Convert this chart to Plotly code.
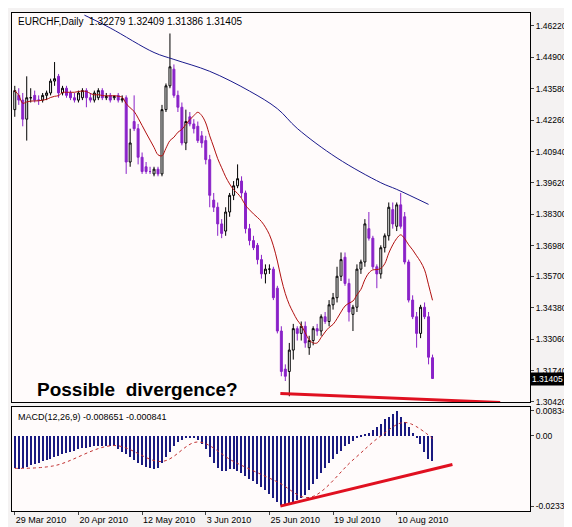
import plotly.graph_objects as go
import pandas as pd

opens = [1.427,1.433,1.431,1.423,1.432,1.433,1.431,1.431,1.433,1.434,1.439,1.441,1.434,1.436,1.434,1.432,1.431,1.432,1.435,1.432,
         1.431,1.432,1.435,1.432,1.433,1.432,1.433,1.431,1.432,1.405,1.422,1.419,1.407,1.403,1.401,1.400,1.402,1.400,1.427,1.437,
         1.444,1.433,1.428,1.413,1.424,1.421,1.420,1.416,1.414,1.406,1.389,1.386,1.379,1.376,1.384,1.391,1.395,1.397,1.392,1.377,
         1.372,1.370,1.364,1.358,1.360,1.360,1.352,1.334,1.318,1.317,1.326,1.335,1.333,1.336,1.327,1.330,1.335,1.334,1.340,1.338,
         1.345,1.348,1.357,1.365,1.354,1.341,1.344,1.360,1.363,1.377,1.373,1.361,1.358,1.369,1.374,1.385,1.378,1.387,1.382,1.363,
         1.347,1.340,1.333,1.344,1.340,1.32279]
highs = [1.437,1.436,1.434,1.441,1.436,1.435,1.433,1.434,1.435,1.440,1.447,1.442,1.437,1.437,1.435,1.434,1.435,1.436,1.436,1.434,
         1.435,1.436,1.436,1.434,1.434,1.433,1.434,1.433,1.433,1.419,1.433,1.421,1.409,1.405,1.403,1.403,1.403,1.429,1.438,1.459,
         1.446,1.435,1.430,1.427,1.426,1.423,1.422,1.418,1.416,1.408,1.392,1.388,1.381,1.386,1.392,1.397,1.404,1.399,1.393,1.379,
         1.374,1.371,1.366,1.362,1.362,1.361,1.353,1.336,1.320,1.329,1.337,1.336,1.338,1.338,1.332,1.336,1.337,1.341,1.342,1.347,
         1.350,1.361,1.367,1.367,1.356,1.345,1.362,1.364,1.381,1.384,1.374,1.362,1.370,1.375,1.388,1.388,1.388,1.392,1.384,1.364,
         1.349,1.342,1.345,1.346,1.342,1.32409]
lows = [1.424,1.429,1.420,1.414,1.430,1.430,1.429,1.430,1.431,1.433,1.437,1.432,1.433,1.432,1.431,1.430,1.430,1.431,1.428,1.430,
        1.430,1.431,1.431,1.431,1.430,1.431,1.430,1.430,1.400,1.403,1.418,1.404,1.400,1.400,1.400,1.399,1.399,1.399,1.426,1.436,
        1.432,1.426,1.412,1.410,1.420,1.417,1.413,1.411,1.404,1.386,1.384,1.374,1.373,1.374,1.382,1.389,1.394,1.390,1.375,1.370,
        1.368,1.362,1.356,1.354,1.358,1.347,1.333,1.315,1.313,1.3066,1.322,1.330,1.330,1.327,1.324,1.328,1.332,1.332,1.337,1.336,
        1.343,1.346,1.355,1.353,1.338,1.334,1.342,1.358,1.361,1.372,1.360,1.352,1.356,1.367,1.372,1.377,1.376,1.377,1.362,1.346,
        1.339,1.327,1.331,1.339,1.320,1.31386]
closes = [1.435,1.431,1.423,1.432,1.432,1.431,1.431,1.433,1.434,1.439,1.440,1.434,1.436,1.433,1.432,1.431,1.434,1.435,1.432,1.431,
          1.434,1.435,1.432,1.4325,1.431,1.4325,1.431,1.4315,1.405,1.413,1.419,1.407,1.401,1.401,1.401,1.402,1.400,1.427,1.437,1.445,
          1.433,1.428,1.413,1.422,1.421,1.419,1.414,1.413,1.406,1.391,1.386,1.379,1.375,1.384,1.391,1.395,1.398,1.392,1.377,1.372,
          1.369,1.364,1.358,1.360,1.360,1.348,1.334,1.317,1.315,1.326,1.335,1.333,1.336,1.329,1.330,1.335,1.334,1.340,1.338,1.345,
          1.348,1.357,1.364,1.354,1.342,1.344,1.360,1.363,1.379,1.373,1.361,1.358,1.369,1.374,1.386,1.379,1.387,1.378,1.363,1.347,
          1.340,1.333,1.344,1.340,1.323,1.31405]

ma100_idx = [17.5,24,35,40,49,59,66,71,81,92,96,104]
ma100_val = [1.4667,1.4613,1.4510,1.4481,1.4431,1.4348,1.4274,1.4191,1.4067,1.3963,1.3935,1.3872]

macd_hist = [-10.8,-11.2,-10.8,-10.4,-9.9,-9.5,-9,-8.6,-8.1,-7.7,-7.2,
             -6.8,-6.3,-5.9,-5.4,-5,-4.5,-4.3,-4,-3.8,-3.6,-3.6,-3.6,-3.4,-3.4,-3.6,
             -4.5,-5.4,-6.3,-7.2,-8.1,-9,-9.9,-10.4,-10.8,-11.2,-10.8,
             -9,-7.2,-5.4,-3.6,-2.2,-1.4,-0.9,-0.9,-0.9,-1.4,
             -2.7,-4.5,-7.2,-9,-10.8,-11.7,-11.7,-11.2,-11.2,
             -11.7,-12.6,-13.5,-14.4,-15.3,-16.2,-17.1,-18,-19.4,-20.7,-22,-23,-23.4,
             -23,-22.5,-21.6,-20.7,-19.8,-18,-16.2,-14.4,-12.6,-10.8,-9,-7.7,-6.3,-5,-3.6,-2.7,-1.8,
             -0.9,-0.5,0.5,0.9,1.8,2.7,4,5.4,6.3,7.2,8.3,
             6.3,4.5,2.7,0.9,-0.9,-2.7,-5.4,-7.7,-8.65]
sig_idx = [0,10,25,37,46,55,66,74,85,92,98,105]
sig_val = [-10.8,-9.9,-3.2,-8.5,-2,-8.5,-15.3,-20.5,-8,0,4.5,-0.84]

date_idx = [0,16,32,48,64,80,96]
date_lbl = ["29 Mar 2010","20 Apr 2010","12 May 2010","3 Jun 2010","25 Jun 2010","19 Jul 2010","10 Aug 2010"]
price_ticks = [1.4622,1.4490,1.4358,1.4226,1.4094,1.3962,1.3830,1.3698,1.3570,1.3438,1.3306,1.3174,1.3042]
macd_ticks = [0.00834,0.0,-0.02337]
macd_tick_lbl = ["0.00834","0.00","-0.02337"]

idx = list(range(len(closes)))
red_ma = pd.Series(closes).rolling(10, min_periods=1).mean().tolist()
purple = "#8a22c8"

fig = go.Figure()
fig.add_trace(go.Candlestick(x=idx, open=opens, high=highs, low=lows, close=closes,
    increasing=dict(line=dict(color="black", width=1), fillcolor="white"),
    decreasing=dict(line=dict(color=purple, width=1), fillcolor=purple),
    whiskerwidth=0, xaxis="x", yaxis="y", showlegend=False, hoverinfo="skip"))
fig.add_trace(go.Scatter(x=idx, y=red_ma, mode="lines", line=dict(color="#b01010", width=1, shape="spline"),
                         xaxis="x", yaxis="y", showlegend=False))
fig.add_trace(go.Scatter(x=ma100_idx, y=ma100_val, mode="lines", line=dict(color="#1a1a8c", width=1, shape="spline"),
                         xaxis="x", yaxis="y", showlegend=False))
fig.add_trace(go.Bar(x=idx, y=[v/1000 for v in macd_hist], marker=dict(color="#1a1a80", line=dict(width=0)),
                     width=0.3, xaxis="x2", yaxis="y2", showlegend=False))
fig.add_trace(go.Scatter(x=sig_idx, y=[v/1000 for v in sig_val], mode="lines",
                         line=dict(color="#c03030", width=1, dash="dot", shape="spline"),
                         xaxis="x2", yaxis="y2", showlegend=False))
fig.add_trace(go.Scatter(x=[66.75,122], y=[1.3078,1.3040], mode="lines", line=dict(color="#e01020", width=3),
                         xaxis="x", yaxis="y", showlegend=False, cliponaxis=False))
fig.add_trace(go.Scatter(x=[66.75,110], y=[-0.02337,-0.0095], mode="lines", line=dict(color="#e01020", width=3),
                         xaxis="x2", yaxis="y2", showlegend=False, cliponaxis=False))

font = dict(family="Liberation Sans, Arial", size=9, color="black")
xr = [-0.7, 129.5]
fig.update_layout(
    width=572, height=527, margin=dict(l=3, r=50, t=3, b=24),
    paper_bgcolor="#f4f2f2", plot_bgcolor="#fffbfb", font=font, bargap=0,
    xaxis=dict(domain=[0,1], range=xr, showticklabels=False, showgrid=False, zeroline=False,
               rangeslider=dict(visible=False), showline=True, mirror=True, linecolor="black", linewidth=1,
               anchor="y", ticks=""),
    yaxis=dict(domain=[0.218,1], range=[1.3040,1.4676], side="right", tickvals=price_ticks,
               ticktext=[f"{v:.5f}" for v in price_ticks], showgrid=False, zeroline=False,
               showline=True, mirror=True, linecolor="black", linewidth=1, ticks="outside", ticklen=3, anchor="x",
               tickfont=dict(size=8.5)),
    xaxis2=dict(domain=[0,1], range=xr, tickvals=date_idx, ticktext=date_lbl, showgrid=False, zeroline=False,
                showline=True, mirror=True, linecolor="black", linewidth=1, ticks="outside", ticklen=3,
                tickangle=0, ticklabelposition="outside right", anchor="y2"),
    yaxis2=dict(domain=[0,0.208], range=[-0.025,0.0095], side="right", tickvals=macd_ticks, ticktext=macd_tick_lbl,
                showgrid=False, zeroline=False, showline=True, mirror=True, linecolor="black", linewidth=1,
                ticks="outside", ticklen=3, anchor="x2", tickfont=dict(size=8.5)),
    annotations=[
        dict(xref="paper", yref="paper", x=0.008, y=0.997, xanchor="left", yanchor="top", showarrow=False,
             text="EURCHF,Daily  1.32279 1.32409 1.31386 1.31405", font=dict(family="Liberation Sans, Arial", size=10)),
        dict(xref="paper", yref="paper", x=0.008, y=0.203, xanchor="left", yanchor="top", showarrow=False,
             text="MACD(12,26,9) -0.008651 -0.000841", font=dict(family="Liberation Sans, Arial", size=9)),
        dict(xref="paper", yref="y", x=1.0, y=1.31405, xanchor="left", yanchor="middle", showarrow=False,
             text="1.31405", bgcolor="black", font=dict(color="white", size=8.5), borderpad=1),
        dict(xref="paper", yref="y", x=0.045, y=1.3095, xanchor="left", yanchor="middle", showarrow=False,
             text="<b>Possible  divergence?</b>", font=dict(family="Liberation Sans, Arial", size=19)),
    ],
)
fig.write_html("out.html")
